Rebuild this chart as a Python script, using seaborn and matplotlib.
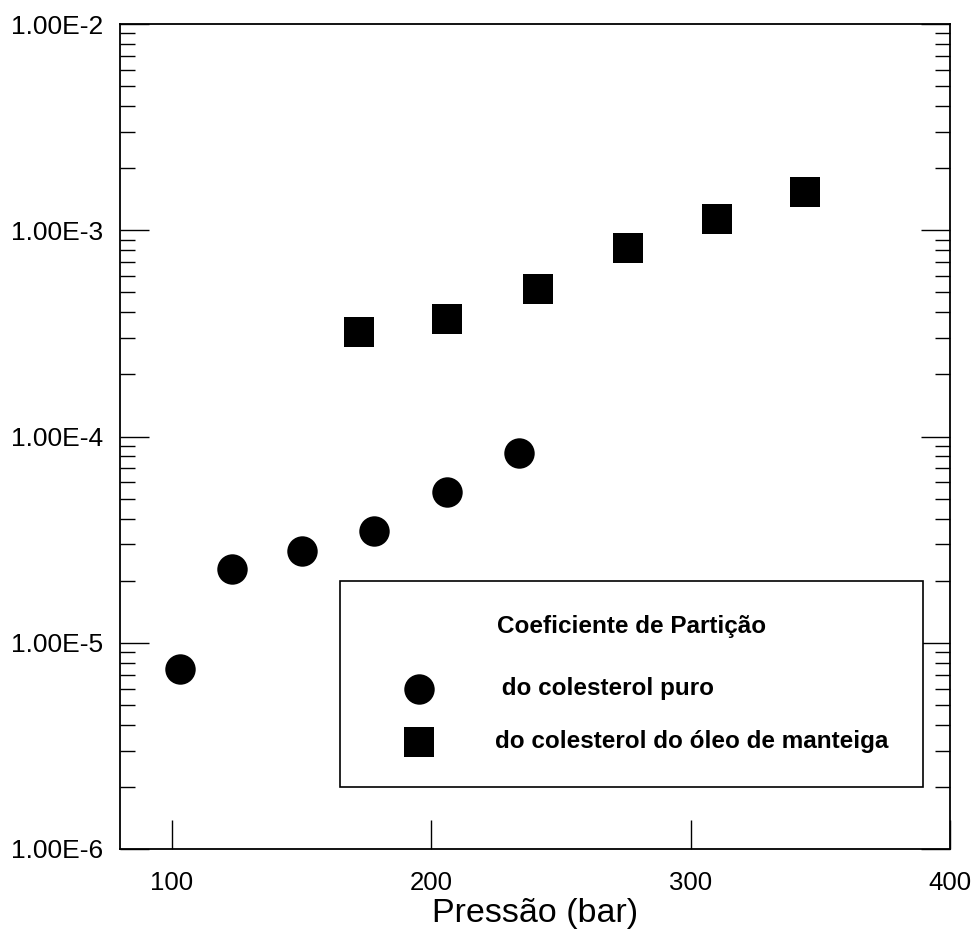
import numpy as np
import pandas as pd
import matplotlib
matplotlib.use("Agg")
import matplotlib.pyplot as plt
import matplotlib.ticker as ticker
import seaborn as sns

# Pressure (bar) and partition coefficient
PRESSAO_PURO = [103, 123, 150, 178, 206, 234]
COEF_PURO = [7.5e-6, 2.27e-5, 2.8e-5, 3.5e-5, 5.4e-5, 8.3e-5]

PRESSAO_MANTEIGA = [172, 206, 241, 276, 310, 344]
COEF_MANTEIGA = [3.2e-4, 3.7e-4, 5.2e-4, 8.2e-4, 1.13e-3, 1.54e-3]

LABEL_PURO = " do colesterol puro"
LABEL_MANTEIGA = "do colesterol do óleo de manteiga"
LEGEND_TITLE = "Coeficiente de Partição"

X_TICKS = [100, 200, 300, 400]
Y_TICKS = [1e-6, 1e-5, 1e-4, 1e-3, 1e-2]

sns.set_theme(style="white")
plt.rcParams["font.family"] = ["Liberation Sans", "DejaVu Sans"]
plt.rcParams["text.color"] = "black"
plt.rcParams["axes.labelcolor"] = "black"
plt.rcParams["xtick.color"] = "black"
plt.rcParams["ytick.color"] = "black"


def sci_label(v, pos):
    exp = int(round(np.log10(v)))
    return f"{v / 10 ** exp:.2f}E{exp}"


fig = plt.figure(figsize=(9.77, 9.33), dpi=100)
ax = fig.add_axes([120 / 977, 1 - 849 / 933, 830 / 977, 825 / 933])

puro = pd.DataFrame({"pressao": PRESSAO_PURO, "coef": COEF_PURO})
manteiga = pd.DataFrame({"pressao": PRESSAO_MANTEIGA, "coef": COEF_MANTEIGA})

sns.scatterplot(data=puro, x="pressao", y="coef", marker="o", color="black",
                s=480, linewidth=0, label=LABEL_PURO, legend=False, ax=ax)
sns.scatterplot(data=manteiga, x="pressao", y="coef", marker="s", color="black",
                s=480, linewidth=0, label=LABEL_MANTEIGA, legend=False, ax=ax)

ax.set_yscale("log")
ax.set_xlim(80, 400)
ax.set_ylim(1e-6, 1e-2)
ax.set_xticks(X_TICKS)
ax.set_yticks(Y_TICKS)
ax.yaxis.set_major_formatter(ticker.FuncFormatter(sci_label))
ax.yaxis.set_minor_locator(ticker.LogLocator(base=10, subs=np.arange(2, 10)))
ax.yaxis.set_minor_formatter(ticker.NullFormatter())

for s in ax.spines.values():
    s.set_visible(True)
    s.set_color("black")
    s.set_linewidth(1.3)

ax.tick_params(axis="x", which="major", direction="in", length=21, width=1,
               bottom=True, top=False, labelsize=18.5, pad=16)
ax.tick_params(axis="y", which="major", direction="in", length=21, width=1,
               left=True, right=True, labelsize=19, pad=12)
ax.tick_params(axis="y", which="minor", direction="in", length=11, width=1,
               left=True, right=True)

ax.set_xlabel("Pressão (bar)", fontsize=24.5, labelpad=2)
ax.set_ylabel("")

# title gets an empty second line so the gap below it is a bit wider
leg = ax.legend(
    loc="lower left",
    bbox_to_anchor=(0.265, 0.075, 0.702, 0.25),
    mode="expand",
    borderaxespad=0,
    title=LEGEND_TITLE + "\n",
    prop={"weight": "bold", "size": 17.5},
    title_fontproperties={"weight": "bold", "size": 17.5},
    scatterpoints=1,
    fancybox=False,
    framealpha=1,
    edgecolor="black",
    borderpad=1.4,
    handlelength=3.7,
    handletextpad=1.28,
    labelspacing=1.24,
)
leg.get_title().set_linespacing(0.2)
leg.get_frame().set_linewidth(1.2)

fig.savefig("out.png", dpi=100)
